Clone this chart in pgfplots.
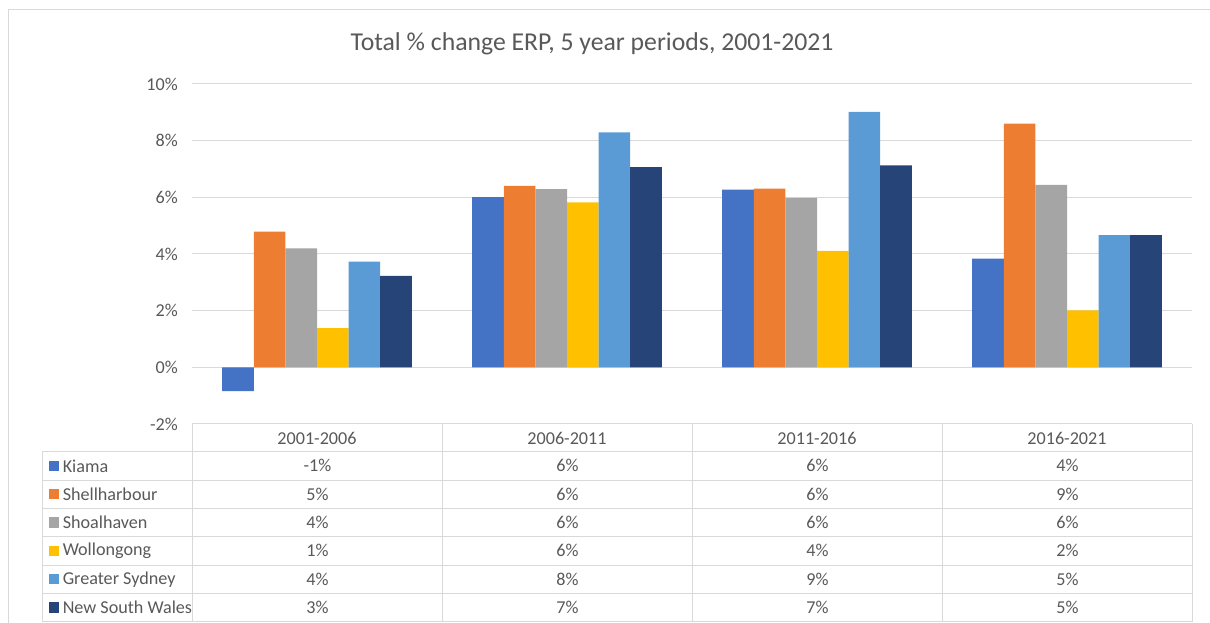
\documentclass[border=0pt]{standalone}
\usepackage{pgfplots}
\pgfplotsset{compat=1.18}
\usepackage{fontspec}
\setmainfont{Carlito}
\definecolor{cKiama}{HTML}{4472C4}
\definecolor{cShell}{HTML}{ED7D31}
\definecolor{cShoal}{HTML}{A5A5A5}
\definecolor{cWoll}{HTML}{FFC000}
\definecolor{cGS}{HTML}{5B9BD5}
\definecolor{cNSW}{HTML}{264478}
\definecolor{gridc}{HTML}{D9D9D9}
\definecolor{txt}{HTML}{595959}
\newcommand{\tfont}{\fontsize{13.6}{16}\selectfont}
\begin{document}
\begin{tikzpicture}
\useasboundingbox (0,0) rectangle (907.5pt,-467.25pt);
\begin{axis}[
  at={(144pt,-318pt)}, anchor=south west,
  width=750pt, height=255pt, scale only axis,
  xmin=-0.5, xmax=3.5, ymin=-2, ymax=10,
  ybar=0pt, bar width=23.7pt,
  xtick={0,1,2,3},
  xticklabels={2001-2006,2006-2011,2011-2016,2016-2021},
  xticklabel style={anchor=center, inner sep=0pt, yshift=-10.5pt},
  ytick={-2,0,2,4,6,8,10},
  yticklabel={\pgfmathprintnumber{\tick}\%},
  yticklabel style={anchor=east, inner sep=0pt, xshift=-10.5pt},
  ymajorgrids, grid style={draw=gridc, line width=0.75pt},
  axis line style={draw=none},
  major tick length=0pt,
  tick label style={font=\tfont, text=txt},
  /pgf/number format/assume math mode=true,
]
\addplot[fill=cKiama, draw=none] coordinates {(0,-0.84) (1,6.01) (2,6.27) (3,3.84)};
\addplot[fill=cShell, draw=none] coordinates {(0,4.79) (1,6.40) (2,6.31) (3,8.60)};
\addplot[fill=cShoal, draw=none] coordinates {(0,4.20) (1,6.29) (2,5.98) (3,6.44)};
\addplot[fill=cWoll, draw=none] coordinates {(0,1.38) (1,5.82) (2,4.11) (3,2.01)};
\addplot[fill=cGS, draw=none] coordinates {(0,3.73) (1,8.29) (2,9.02) (3,4.67)};
\addplot[fill=cNSW, draw=none] coordinates {(0,3.23) (1,7.07) (2,7.13) (3,4.67)};
\end{axis}
\begin{scope}[x=0.75pt, y=-0.75pt]
  % outer border
  \draw[gridc, line width=0.75pt] (8,623) -- (8,10) -- (1210,10);
  % title
  \node[text=txt, font=\fontsize{19.3}{22}\selectfont] at (592,43.5) {Total \% change ERP, 5 year periods, 2001-2021};
  % table grid
  \begin{scope}[gridc, line width=0.75pt]
    \draw (192,424) -- (1192,424);
    \foreach \yy in {451.7,480,508.3,536.7,565,593.3,621.7}
      \draw (42,\yy) -- (1192,\yy);
    \draw (42,451.7) -- (42,621.7);
    \foreach \xx in {192,442.5,692.5,942.5,1192}
      \draw (\xx,424) -- (\xx,621.7);
  \end{scope}
  % legend keys and names
  \foreach \c/\n [count=\i] in {cKiama/Kiama,cShell/Shellharbour,cShoal/Shoalhaven,cWoll/Wollongong,cGS/Greater Sydney,cNSW/New South Wales} {
    \pgfmathsetmacro{\yc}{451.7+28.33*(\i-0.5)}
    \fill[\c] (48.5,\yc-5.2) rectangle (59,\yc+5.2);
    \node[anchor=west, inner sep=0pt, text=txt, font=\tfont] at (62.5,\yc) {\n};
  }
  % values
  \foreach \row [count=\i] in {{-1\%,6\%,6\%,4\%},{5\%,6\%,6\%,9\%},{4\%,6\%,6\%,6\%},{1\%,6\%,4\%,2\%},{4\%,8\%,9\%,5\%},{3\%,7\%,7\%,5\%}} {
    \pgfmathsetmacro{\yc}{451.7+28.33*(\i-0.5)}
    \foreach \v [count=\j] in \row {
      \node[text=txt, font=\tfont, inner sep=0pt] at (67.5+250*\j,\yc) {\v};
    }
  }
\end{scope}
\end{tikzpicture}
\end{document}
